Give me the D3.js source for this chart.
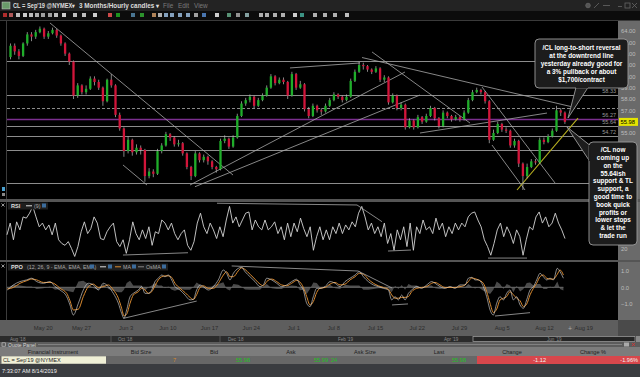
<!DOCTYPE html>
<html><head><meta charset="utf-8">
<script src="https://cdn.jsdelivr.net/npm/d3@7"></script>
<style>
html,body{margin:0;padding:0;background:#000;overflow:hidden;}
svg{display:block;font-family:"Liberation Sans",Arial,sans-serif;}
</style></head><body>
<svg id="c" width="640" height="377"></svg>
<script>
// ---------------- DATA ----------------
// half-day candles, first bar begins at trading day -4 (May 14); day 0 = May 20
const barStartDay = -4, barStep = 0.5, firstOpen = 61.7;
const closes = [62.7,62.2,61.8,62.9,63.7,63.5,63.9,64.2,63.5,63.8,
64.1,63.6,62.9,62.0,61.3,58.3,59.2,58.6,58.9,59.8,
59.5,59.0,57.8,59.7,59.2,56.6,55.4,53.4,54.4,53.3,
53.7,53.5,51.2,51.6,51.4,53.4,53.9,54.9,54.6,54.0,
54.1,53.2,52.0,51.2,53.2,52.6,52.9,52.5,52.0,51.8,
54.3,54.5,53.8,54.6,56.5,57.6,57.9,58.2,57.4,57.9,
58.3,59.0,60.0,59.4,59.7,59.5,58.3,60.2,59.0,59.3,
57.1,56.5,57.4,57.0,56.9,57.4,57.9,58.4,58.2,57.9,
58.2,59.6,60.4,61.0,60.9,60.6,60.4,60.7,59.7,59.9,
57.7,58.3,57.2,57.5,55.5,56.1,55.5,56.4,56.0,56.5,
57.2,56.3,55.6,56.8,56.5,56.2,56.4,56.2,56.8,57.9,
58.6,58.8,58.6,57.8,54.4,55.0,55.8,55.3,55.2,53.9,
54.3,52.3,51.2,52.0,52.5,52.4,54.4,54.2,54.7,55.2,
57.0,56.8,55.98];
const highs = [62.9,62.9,62.4,63.0,63.9,63.9,64.1,64.4,64.3,64.0,
64.3,64.2,63.7,63.0,62.1,61.4,59.4,59.3,59.2,60.0,
60.0,59.7,59.1,59.8,60.2,59.3,56.8,55.5,54.7,54.5,
54.0,53.9,53.6,51.9,51.8,53.6,54.1,55.1,55.0,54.7,
54.4,54.2,53.3,52.1,53.4,53.3,53.1,53.0,52.6,52.1,
54.5,54.8,54.6,54.8,56.7,57.8,58.1,58.4,58.3,58.1,
58.5,59.2,60.2,60.1,59.9,59.9,59.6,60.4,60.3,59.6,
59.4,57.3,57.6,57.5,57.2,57.6,58.1,58.6,58.5,58.3,
58.4,59.8,60.6,61.3,61.2,61.0,60.7,60.9,60.8,60.1,
60.0,58.5,58.4,57.7,57.6,56.3,56.2,56.6,56.5,56.7,
57.4,57.3,56.4,57.0,56.9,56.6,56.6,56.5,57.0,58.1,
58.8,59.0,58.9,58.7,57.9,55.3,56.0,55.9,55.5,55.3,
54.5,54.4,52.4,52.3,52.7,52.7,54.6,54.6,54.9,55.4,
57.4,57.2,56.9];
const lows = [61.5,61.9,61.5,61.7,62.7,63.1,63.3,63.8,63.3,63.3,
63.7,63.4,62.7,61.8,61.0,58.0,58.1,58.4,58.4,58.8,
59.2,58.8,57.4,57.7,59.0,56.4,55.2,52.9,53.2,53.0,
53.1,53.1,50.7,51.0,51.1,51.3,53.2,53.8,54.3,53.8,
53.8,53.0,51.8,50.85,51.1,52.4,52.4,52.2,51.8,51.5,
51.7,54.1,53.6,53.7,54.5,56.4,57.4,57.7,57.2,57.3,
57.8,58.2,58.9,59.2,59.3,59.3,58.0,58.2,58.8,58.9,
56.9,56.3,56.4,56.8,56.6,56.8,57.3,57.8,58.0,57.7,
57.8,58.1,59.5,60.3,60.6,60.4,60.2,60.3,59.5,59.5,
57.5,57.6,57.0,57.0,55.3,55.4,55.3,55.4,55.8,55.9,
56.4,56.1,55.4,55.5,56.3,56.0,56.1,56.0,56.1,56.7,
57.8,58.5,58.4,57.6,54.1,54.3,54.9,55.1,55.0,53.7,
53.7,52.0,49.97,51.0,51.9,52.2,52.3,54.0,54.1,54.6,
55.1,56.5,55.8];
const lastPrice = 55.98;

// RSI(9) samples, evenly spaced from day -4.17 to day 62.26
const rsiFirstDay = -4.17, rsiLastDay = 62.26;
const rsiVals = [43,62,35,64,51,72,70,78,89,72,56,62,51,59,43,62,35,29,26,32,
21,8,24,48,64,45,53,72,62,37,35,48,56,62,32,24,35,13,35,64,
45,35,51,37,56,26,48,45,67,62,51,62,45,35,45,51,26,18,32,62,
78,56,45,62,51,37,56,40,67,89,62,72,56,67,78,80,51,67,56,51,
67,51,56,64,45,56,35,62,40,62,48,70,53,40,56,18,40,56,35,51,
35,56,45,62,45,59,51,64,56,78,89,72,51,62,45,56,40,62,29,45,
18,51,35,56,24,62,18,56,45,67,51,56,45,70,51,62,40,56,45,62,
51,62,56,72,78,80,67,56,35,24,10,29,51,62,40,56,45,29,51,40,
10,35,56,51,72,80,62,72,56,62,78,62,51,37];

// PPO(12,26,9): [day, PPO, MA]
const ppoData = [[-4.13,-0.16,-0.10],[-3.41,0.14,-0.01],[-2.62,0.34,0.24],[-1.83,0.44,0.39],[-1.23,0.54,0.49],
[-0.63,0.34,0.44],[0.16,0.24,0.29],[0.95,0.34,0.29],[1.55,0.04,0.19],[2.14,-0.16,-0.06],
[2.94,-0.56,-0.36],[3.33,-1.05,-0.80],[3.73,-1.65,-1.35],[4.33,-0.95,-1.30],[4.92,-0.16,-0.55],
[5.52,0.24,0.04],[6.11,0.14,0.19],[6.71,-0.16,-0.01],[7.30,0.24,0.04],[7.90,0.04,0.14],
[8.49,-0.36,-0.16],[9.09,-0.95,-0.65],[9.48,-1.55,-1.25],[9.76,-1.85,-1.70],[10.08,-1.35,-1.60],
[10.48,-0.56,-0.95],[10.87,-0.36,-0.46],[11.47,-0.16,-0.26],[11.87,0.04,-0.06],[12.26,-0.36,-0.16],
[12.66,-0.36,-0.36],[13.06,-0.16,-0.26],[13.45,0.34,0.09],[13.85,0.54,0.44],[14.25,0.73,0.63],
[14.64,0.63,0.68],[15.04,0.73,0.68],[15.44,0.44,0.59],[15.83,0.04,0.24],[16.43,-0.16,-0.06],
[17.02,-0.46,-0.31],[17.62,-0.75,-0.60],[18.02,-0.71,-0.73],[18.41,-0.16,-0.44],[18.81,0.14,-0.01],
[19.21,0.04,0.09],[19.80,-0.16,-0.06],[20.40,0.04,-0.06],[20.99,0.44,0.24],[21.59,1.03,0.73],
[21.98,0.83,0.93],[22.38,0.44,0.63],[22.78,0.83,0.63],[23.37,1.13,0.98],[23.77,1.19,1.16],
[24.17,0.93,1.06],[24.76,0.63,0.78],[25.36,0.34,0.48],[25.95,0.04,0.19],[26.35,0.14,0.09],
[26.75,0.54,0.34],[27.34,0.44,0.49],[27.94,0.24,0.34],[28.53,0.04,0.14],[29.13,0.14,0.09],
[29.72,0.34,0.24],[30.32,0.48,0.41],[30.71,0.14,0.31],[31.11,-0.16,-0.01],[31.51,-0.95,-0.55],
[31.90,-1.15,-1.05],[32.30,-0.56,-0.85],[32.70,-0.06,-0.31],[33.10,-0.06,-0.06],[33.70,0.04,-0.01],
[34.29,0.34,0.19],[34.89,0.24,0.29],[35.48,0.04,0.14],[36.08,0.34,0.19],[36.67,0.54,0.44],
[37.27,0.73,0.63],[37.78,0.93,0.83],[38.26,0.63,0.78],[38.85,0.34,0.48],[39.45,0.14,0.24],
[40.04,0.04,0.09],[40.64,-0.06,-0.01],[41.23,-0.16,-0.11],[41.63,-0.75,-0.45],[42.03,-0.56,-0.65],
[42.43,-0.75,-0.65],[42.82,-0.46,-0.60],[43.22,-0.75,-0.60],[43.62,-0.36,-0.55],[44.01,-0.16,-0.26],
[44.61,0.04,-0.06],[45.20,-0.06,-0.01],[45.80,0.14,0.04],[46.39,0.34,0.24],[46.79,0.24,0.29],
[47.39,0.04,0.14],[47.98,-0.06,-0.01],[48.58,0.04,-0.01],[49.17,-0.06,-0.01],[49.77,0.14,0.04],
[50.36,0.14,0.14],[50.76,0.54,0.34],[51.16,0.59,0.56],[51.55,0.44,0.51],[51.95,0.44,0.44],
[52.54,0.04,0.24],[52.94,-0.56,-0.26],[53.34,-1.35,-0.95],[53.73,-1.65,-1.50],[54.13,-0.95,-1.30],
[54.53,-0.56,-0.75],[54.93,-0.75,-0.65],[55.32,-0.36,-0.55],[55.72,-0.16,-0.26],[56.12,-0.75,-0.45],
[56.51,-0.56,-0.65],[56.91,-1.05,-0.80],[57.31,-1.25,-1.15],[57.70,-0.75,-1.00],[58.10,-0.16,-0.45],
[58.50,0.04,-0.06],[58.89,0.44,0.24],[59.29,0.83,0.63],[59.69,0.63,0.73],[60.08,0.44,0.54],
[60.48,0.54,0.49],[60.88,0.44,0.49],[61.35,1.13,0.78],[61.67,0.93,1.03],[62.07,0.54,0.73]];

// x-axis labels and their trading-day positions
const dateLabels = ["May 20","May 27","Jun 3","Jun 10","Jun 17","Jun 24","Jul 1","Jul 8","Jul 15","Jul 22","Jul 29","Aug 5","Aug 12","Aug 19"];
const dateDays = [0.08,4.64,9.96,14.92,19.88,24.85,29.92,34.68,39.64,44.61,49.64,54.73,59.76,64.44];
const priceTicks = [64,63,62,61,60,59,58,57,55];
const rsiTicks = [20];
const ppoTicks = [1,0,-1];

// horizontal levels on price panel
const levels = [61.35,58.33,56.27,55.64,54.72,53.5,50.56];
const levelLabels = [[58.33,"58.33"],[56.27,"56.27"],[55.64,"55.64"],[54.72,"54.72"]];
const dashedLevel = 57.2;
const purpleLevel = 56.27;

// drawn trendlines [[day,value],[day,value]]
const priceLines = [
 [[0.95,64.71],[22.74,51.29]],
 [[9.64,52.18],[12.5,50.41]],
 [[17.62,50.41],[43.21,60.38]],
 [[18.21,50.26],[45.0,58.35]],
 [[45.0,55.0],[60.12,56.76]],
 [[29.52,60.74],[37.86,61.18]],
 [[38.1,61.66],[63.45,57.25]],
 [[39.29,62.15],[50.95,55.88]],
 [[52.38,59.06],[61.07,50.59]],
 [[53.57,53.94],[57.5,49.97]]
];
const supportLine = [[56.55,49.97],[63.81,56.32]];
const rsiLines = [[[9.64,10.3],[17.38,14.0]],[[20.83,94.1],[37.5,91.3]],[[37.5,91.3],[40.48,64.2]],[[41.19,16.8],[43.93,18.4]],[[53.1,5.4],[57.74,5.4]]];
const ppoLines = [[[9.68,-1.85],[18.42,-0.82]],[[22.58,1.27],[37.62,0.97]],[[37.62,0.97],[41.67,-0.04]],[[41.67,-1.05],[43.57,-0.99]],[[53.93,-1.71],[58.1,-1.51]]];

const note1 = ["/CL long-to-short reversal","at the downtrend line","yesterday already good for","a 3% pullback or about","$1,700/contract"];
const note2 = ["/CL now","coming up","on the","55.64ish","support & TL","support, a","good time to","book quick","profits or","lower stops","& let the","trade run"];

const navLabels = [["Aug '18",10],["Oct '18",118],["Dec '18",228],["Feb '19",338],["Apr '19",444],["Jun '19",547]];
const quoteCols = ["Financial Instrument","Bid Size","Bid","Ask","Ask Size","Last","Change","Change %"];

// ---------------- LAYOUT ----------------
const svg = d3.select("#c");
const X0 = 7, X1 = 618;
const P = {top:21, bot:199};

const x = d3.scaleLinear().domain([-4.167, 68.571]).range([X0, X1]);
const y = d3.scaleLinear().domain([64, 55]).range([31, 133]);
const yr = d3.scaleLinear().domain([0, 100]).range([261.4, 199.6]);
const yp = d3.scaleLinear().domain([0, 1]).range([287.3, 270.5]);

// backgrounds
svg.append("rect").attr("width",640).attr("height",377).attr("fill","#000");
svg.append("rect").attr("x",0).attr("y",0).attr("width",640).attr("height",11).attr("fill","#232323");
svg.append("rect").attr("x",0).attr("y",11).attr("width",640).attr("height",9).attr("fill","#0c0c0c");
svg.append("line").attr("x1",0).attr("x2",640).attr("y1",20.5).attr("y2",20.5).attr("stroke","#3a3a3a");
svg.append("rect").attr("x",X1).attr("y",21).attr("width",640-X1).attr("height",299).attr("fill","#6a6a6a");
svg.append("line").attr("x1",6.5).attr("x2",6.5).attr("y1",21).attr("y2",320).attr("stroke","#3c3c3c");
[[199,202],[260,262]].forEach(s=>svg.append("rect").attr("x",0).attr("y",s[0]).attr("width",640).attr("height",s[1]-s[0]).attr("fill","#555"));

// title bar
svg.append("rect").attr("x",2).attr("y",2).attr("width",8).attr("height",7).attr("fill","#6a9a6a").attr("stroke","#ccc").attr("stroke-width",0.5);
const tt = svg.append("g").attr("font-size",6.4).attr("font-weight","bold");
tt.append("text").attr("x",13).attr("y",8).attr("fill","#dcdcdc").attr("textLength",62).attr("lengthAdjust","spacingAndGlyphs").text("CL = Sep'19 @NYMEX\u25BE");
tt.append("text").attr("x",79).attr("y",8).attr("fill","#dcdcdc").attr("textLength",80).attr("lengthAdjust","spacingAndGlyphs").text("3 Months/Hourly candles \u25BE");
tt.append("text").attr("x",163).attr("y",8).attr("fill","#7a7a7a").attr("font-weight","normal").text("File");
tt.append("text").attr("x",178).attr("y",8).attr("fill","#7a7a7a").attr("font-weight","normal").text("Edit");
tt.append("text").attr("x",194).attr("y",8).attr("fill","#7a7a7a").attr("font-weight","normal").text("View");
const wb = svg.append("g").attr("fill","none").attr("stroke","#666").attr("stroke-width",0.8);
wb.append("circle").attr("cx",588).attr("cy",5.5).attr("r",2.3).attr("fill","#555");
wb.append("path").attr("d","M594,8 L599,3");
wb.append("path").attr("d","M603,5.5 H610");
wb.append("path").attr("d","M618,6.5 H622");
wb.append("rect").attr("x",625).attr("y",3).attr("width",5).attr("height",5);
wb.append("path").attr("d","M632,3 L637,8 M637,3 L632,8");
const icons = [[3,"#c33"],[9,"#c66"],[16,"#ddd"],[23,"#eee"],[29,"#ddd"],[35,"#ccc"],[41,"#bbb"],[48,"#bbb"],[54,"#ddd"],[62,"#eee"],[73,"#ddd"],[82,"#ddd"],[93,"#eee"],[108,"#e55"],[116,"#2a2"],[131,"#58a"],[140,"#3a3"],[152,"#c96"],[158,"#ccc"],[164,"#9bd"],[170,"#9bd"],[178,"#9bd"],[186,"#9bd"],[194,"#bbb"],[202,"#58c"],[215,"#eee"],[227,"#6a8"],[236,"#aaa"],[245,"#9bb"],[259,"#ccc"],[265,"#ccc"],[273,"#ccc"],[281,"#ccc"],[293,"#eee"],[300,"#4a9"],[313,"#ccc"],[323,"#ccc"],[333,"#ccc"],[345,"#ddd"]];
svg.append("g").selectAll("rect").data(icons).join("rect")
  .attr("x",d=>d[0]).attr("y",13).attr("width",4).attr("height",4).attr("fill",d=>d[1]).attr("opacity",0.85);

// ---------------- PRICE PANEL ----------------
const pg = svg.append("g");
pg.append("clipPath").attr("id","pc").append("rect").attr("x",X0).attr("y",P.top).attr("width",X1-X0).attr("height",P.bot-P.top);
const pc = pg.append("g").attr("clip-path","url(#pc)");
pc.selectAll("line.lv").data(levels).join("line").attr("class","lv")
  .attr("x1",X0).attr("x2",X1).attr("y1",d=>Math.round(y(d))+0.5).attr("y2",d=>Math.round(y(d))+0.5)
  .attr("stroke","#8c8c8c").attr("stroke-width",1);
pc.append("line").attr("x1",X0).attr("x2",X1).attr("y1",Math.round(y(dashedLevel))+0.5).attr("y2",Math.round(y(dashedLevel))+0.5)
  .attr("stroke","#8c8c8c").attr("stroke-dasharray","3,2");
pc.append("line").attr("x1",X0).attr("x2",X1).attr("y1",Math.round(y(purpleLevel))+0.5).attr("y2",Math.round(y(purpleLevel))+0.5)
  .attr("stroke","#7b2f8f").attr("stroke-width",1.3);
pc.selectAll("line.tl").data(priceLines).join("line").attr("class","tl")
  .attr("x1",d=>x(d[0][0])).attr("y1",d=>y(d[0][1])).attr("x2",d=>x(d[1][0])).attr("y2",d=>y(d[1][1]))
  .attr("stroke","#a8a8a8").attr("stroke-width",0.8);
pc.append("line").attr("x1",x(supportLine[0][0])).attr("y1",y(supportLine[0][1])).attr("x2",x(supportLine[1][0])).attr("y2",y(supportLine[1][1]))
  .attr("stroke","#b8b020").attr("stroke-width",1.1);

const bars = closes.map((c,i)=>({d:barStartDay+i*barStep+barStep/2, o:i?closes[i-1]:firstOpen, h:highs[i], l:lows[i], c}));
const bw = (x(barStep)-x(0))*0.55;
const cg = pc.append("g");
cg.selectAll("line").data(bars).join("line")
  .attr("x1",d=>x(d.d)).attr("x2",d=>x(d.d)).attr("y1",d=>y(d.h)).attr("y2",d=>y(d.l))
  .attr("stroke","#bdbdbd").attr("stroke-width",0.7);
cg.selectAll("rect").data(bars).join("rect")
  .attr("x",d=>x(d.d)-bw/2).attr("width",bw)
  .attr("y",d=>y(Math.max(d.o,d.c))).attr("height",d=>Math.max(0.8,Math.abs(y(d.o)-y(d.c))))
  .attr("fill",d=>d.c>=d.o?"#1fae2a":"#d2153a");

pg.selectAll("text.ll").data(levelLabels).join("text").attr("class","ll")
  .attr("x",616).attr("y",d=>y(d[0])-2).attr("text-anchor","end")
  .attr("font-size",5.5).attr("fill","#9a9a9a").text(d=>d[1]);

const pa = svg.append("g").attr("transform",`translate(${X1},0)`)
  .call(d3.axisRight(y).tickValues(priceTicks).tickFormat(d3.format(".2f")).tickSize(0).tickPadding(3));
pa.select(".domain").remove();
pa.selectAll("text").attr("font-size",5.8).attr("fill","#bdbdbd").attr("font-family","Liberation Sans, Arial");
svg.append("rect").attr("x",X1+1).attr("y",y(lastPrice)-4).attr("width",19).attr("height",8).attr("fill","#e4e400");
svg.append("text").attr("x",X1+2.5).attr("y",y(lastPrice)+2).attr("font-size",5.8).attr("fill","#000").text(d3.format(".2f")(lastPrice));

// ---------------- RSI PANEL ----------------
const rg = svg.append("g");
const rsiStep = (rsiLastDay-rsiFirstDay)/(rsiVals.length-1);
rg.append("path").datum(rsiVals)
  .attr("d",d3.line().x((v,i)=>x(rsiFirstDay+i*rsiStep)).y(v=>yr(v)))
  .attr("fill","none").attr("stroke","#d4d4d4").attr("stroke-width",0.9);
rg.selectAll("line.rl").data(rsiLines).join("line").attr("class","rl")
  .attr("x1",d=>x(d[0][0])).attr("y1",d=>yr(d[0][1])).attr("x2",d=>x(d[1][0])).attr("y2",d=>yr(d[1][1]))
  .attr("stroke","#a8a8a8").attr("stroke-width",0.8);
rg.append("rect").attr("x",8).attr("y",202.5).attr("width",40).attr("height",7).attr("fill","#1e1e1e");
rg.append("text").attr("x",11).attr("y",208).attr("font-size",5.6).attr("font-weight","bold").attr("fill","#ddd").text("RSI");
rg.append("line").attr("x1",26).attr("x2",32).attr("y1",205.8).attr("y2",205.8).attr("stroke","#ddd");
rg.append("text").attr("x",34).attr("y",208).attr("font-size",5.3).attr("fill","#aaa").text("(9)");
rg.append("rect").attr("x",42).attr("y",203.5).attr("width",4).attr("height",4).attr("fill","#3c6c9c");
const ra = svg.append("g").attr("transform",`translate(${X1},0)`)
  .call(d3.axisRight(yr).tickValues(rsiTicks).tickSize(0).tickPadding(3));
ra.select(".domain").remove();
ra.selectAll("text").attr("font-size",5.8).attr("fill","#bdbdbd");

// ---------------- PPO PANEL ----------------
const qg = svg.append("g");
qg.append("path").datum(ppoData)
  .attr("d",d3.area().x(d=>x(d[0])).y0(yp(0)).y1(d=>yp(d[1]-d[2])))
  .attr("fill","#4a4a4a");
qg.append("line").attr("x1",X0).attr("x2",x(ppoData[ppoData.length-1][0])).attr("y1",yp(0)).attr("y2",yp(0)).attr("stroke","#6a6a6a").attr("stroke-width",1);
qg.append("path").datum(ppoData)
  .attr("d",d3.line().curve(d3.curveMonotoneX).x(d=>x(d[0])).y(d=>yp(d[2])))
  .attr("fill","none").attr("stroke","#d98a30").attr("stroke-width",1);
qg.append("path").datum(ppoData)
  .attr("d",d3.line().curve(d3.curveMonotoneX).x(d=>x(d[0])).y(d=>yp(d[1])))
  .attr("fill","none").attr("stroke","#e6e6e6").attr("stroke-width",0.7).attr("opacity",0.85);
qg.selectAll("line.pl").data(ppoLines).join("line").attr("class","pl")
  .attr("x1",d=>x(d[0][0])).attr("y1",d=>yp(d[0][1])).attr("x2",d=>x(d[1][0])).attr("y2",d=>yp(d[1][1]))
  .attr("stroke","#a8a8a8").attr("stroke-width",0.8);
qg.append("rect").attr("x",8).attr("y",263.5).attr("width",160).attr("height",7).attr("fill","#1e1e1e");
qg.append("text").attr("x",11).attr("y",269).attr("font-size",5.6).attr("font-weight","bold").attr("fill","#ddd").text("PPO");
qg.append("text").attr("x",27).attr("y",269).attr("font-size",5.3).attr("fill","#aaa").text("(12, 26, 9 - EMA, EMA, EMA)");
qg.append("rect").attr("x",90).attr("y",264.5).attr("width",4).attr("height",4).attr("fill","#3c6c9c");
qg.append("line").attr("x1",100).attr("x2",106).attr("y1",266.8).attr("y2",266.8).attr("stroke","#ddd");
qg.append("rect").attr("x",108).attr("y",264.5).attr("width",4).attr("height",4).attr("fill","#3c6c9c");
qg.append("line").attr("x1",115).attr("x2",121).attr("y1",266.8).attr("y2",266.8).attr("stroke","#d98a30");
qg.append("text").attr("x",123).attr("y",269).attr("font-size",5.3).attr("fill","#aaa").text("MA");
qg.append("rect").attr("x",132).attr("y",264.5).attr("width",4).attr("height",4).attr("fill","#3c6c9c");
qg.append("line").attr("x1",138).attr("x2",144).attr("y1",266.8).attr("y2",266.8).attr("stroke","#888");
qg.append("text").attr("x",146).attr("y",269).attr("font-size",5.3).attr("fill","#aaa").text("OsMA");
qg.append("rect").attr("x",162).attr("y",264.5).attr("width",4).attr("height",4).attr("fill","#3c6c9c");
const qa = svg.append("g").attr("transform",`translate(${X1},0)`)
  .call(d3.axisRight(yp).tickValues(ppoTicks).tickSize(0).tickPadding(3));
qa.select(".domain").remove();
qa.selectAll("text").attr("font-size",5.8).attr("fill","#bdbdbd");

[205,266].forEach(cy=>svg.append("path").attr("d",`M1.5,${cy-1.5} l3,3 m0,-3 l-3,3`).attr("stroke","#bbb").attr("stroke-width",0.8));
svg.append("rect").attr("x",2).attr("y",187).attr("width",3).attr("height",4).attr("fill","#4aa0d0");
svg.append("rect").attr("x",2).attr("y",193).attr("width",3).attr("height",3).attr("fill","#888");

// ---------------- X AXIS ----------------
svg.append("rect").attr("x",0).attr("y",320).attr("width",640).attr("height",16).attr("fill","#5e5e5e");
svg.append("rect").attr("x",X1).attr("y",320).attr("width",640-X1).attr("height",16).attr("fill","#4a4a4a");
const xa = svg.append("g").attr("transform","translate(0,323)")
  .call(d3.axisBottom(x).tickValues(dateDays).tickFormat((d,i)=>dateLabels[i]).tickSize(0).tickPadding(3));
xa.select(".domain").remove();
xa.selectAll("text").attr("font-size",5.8).attr("fill","#2c2c2c");
svg.append("text").attr("x",568).attr("y",331).attr("font-size",7).attr("fill","#aaa").text("+");

svg.append("rect").attr("x",0).attr("y",336).attr("width",640).attr("height",6).attr("fill","#2b2b2b");
svg.append("rect").attr("x",473).attr("y",336.5).attr("width",162).attr("height",5).attr("fill","#242424").attr("stroke","#9a9a9a").attr("stroke-width",0.8);
svg.append("rect").attr("x",636).attr("y",336).attr("width",4).attr("height",6).attr("fill","#888");
[111,220].forEach(v=>svg.append("line").attr("x1",v).attr("x2",v).attr("y1",336).attr("y2",342).attr("stroke","#555"));
svg.selectAll("text.nav").data(navLabels).join("text").attr("class","nav")
  .attr("x",d=>d[1]).attr("y",341).attr("font-size",4.6).attr("fill","#8a8a8a").text(d=>d[0]);

// ---------------- QUOTE PANEL ----------------
svg.append("rect").attr("x",0).attr("y",342).attr("width",640).attr("height",22).attr("fill","#6c6c6c");
svg.append("rect").attr("x",0).attr("y",342).attr("width",640).attr("height",5).attr("fill","#5c5c5c");
svg.append("rect").attr("x",2).attr("y",342.8).attr("width",3.4).attr("height",3.4).attr("fill","none").attr("stroke","#ccc").attr("stroke-width",0.6);
svg.append("text").attr("x",8).attr("y",346.6).attr("font-size",5).attr("fill","#d6d6d6").text("Quote Panel");
svg.append("line").attr("x1",38).attr("x2",622).attr("y1",344.5).attr("y2",344.5).attr("stroke","#9a9a9a").attr("stroke-width",0.6);
svg.append("rect").attr("x",624).attr("y",342.5).attr("width",5).attr("height",4).attr("fill","#aaa");
svg.append("path").attr("d","M632,343 l3,3 m0,-3 l-3,3").attr("stroke","#d33").attr("stroke-width",0.8);
svg.append("rect").attr("x",0).attr("y",347).attr("width",640).attr("height",9).attr("fill","#7c7c7c");
const colX = [53,141,214,291,365,439,512,593];
svg.selectAll("text.qh").data(quoteCols).join("text").attr("class","qh")
  .attr("x",(d,i)=>colX[i]).attr("y",353.8).attr("text-anchor","middle").attr("font-size",5.6).attr("fill","#1e1e1e").text(d=>d);
svg.append("rect").attr("x",0).attr("y",356).attr("width",640).attr("height",8).attr("fill","#676767");
svg.append("rect").attr("x",1.5).attr("y",356.3).attr("width",104.5).attr("height",7.4).attr("fill","#efefd6");
svg.append("text").attr("x",3).attr("y",362.2).attr("font-size",5.6).attr("fill","#222").text("CL = Sep'19 @NYMEX");
svg.append("rect").attr("x",477).attr("y",356).attr("width",163).attr("height",8).attr("fill","#d8474c");
const qv = [["7",176,"#d88a2a"],["55.98",250,"#22c022"],["55.99",328,"#22c022"],["55.98",466,"#22c022"],["-1.12",546,"#f2f2f2"],["-1.96%",638,"#f2f2f2"]];
svg.selectAll("text.qv").data(qv).join("text").attr("class","qv")
  .attr("x",d=>d[1]).attr("y",362.2).attr("text-anchor","end").attr("font-size",5.6).attr("fill",d=>d[2]).text(d=>d[0]);
svg.append("text").attr("x",331).attr("y",362.2).attr("font-size",5.6).attr("fill","#22c022").text("24");

svg.append("rect").attr("x",0).attr("y",364).attr("width",640).attr("height",13).attr("fill","#3a3c40");
svg.append("text").attr("x",2).attr("y",373).attr("font-size",5.6).attr("fill","#f0f0f0").text("7:33:07 AM 8/14/2019");

// ---------------- NOTES ----------------
function bubble(box, tail, lines, cx, y0, dy){
  const g = svg.append("g");
  g.append("path").attr("d",d3.line()(tail)).attr("fill","#1c1c1c").attr("stroke","#9c9c9c").attr("stroke-width",0.9);
  g.append("rect").attr("x",box[0]).attr("y",box[1]).attr("width",box[2]).attr("height",box[3]).attr("rx",4)
    .attr("fill","#1c1c1c").attr("stroke","#9c9c9c").attr("stroke-width",0.9);
  g.append("path").attr("d",d3.line()(tail.slice(0,1).concat(tail.slice(-1)))).attr("stroke","#1c1c1c").attr("stroke-width",1.6);
  g.selectAll("text").data(lines).join("text").attr("x",cx).attr("y",(d,i)=>y0+i*dy)
    .attr("text-anchor","middle").attr("dominant-baseline","middle")
    .attr("font-size",6.4).attr("font-weight","bold").attr("fill","#fff").text(d=>d);
}
bubble([535,39,93,49],[[576,87.5],[568,118],[588,87.5]],note1,581.5,48.5,7.9);
bubble([589,142,48,103],[[589.5,145],[567,127],[589.5,161]],note2,613,150.5,7.8);
</script>
</body></html>
